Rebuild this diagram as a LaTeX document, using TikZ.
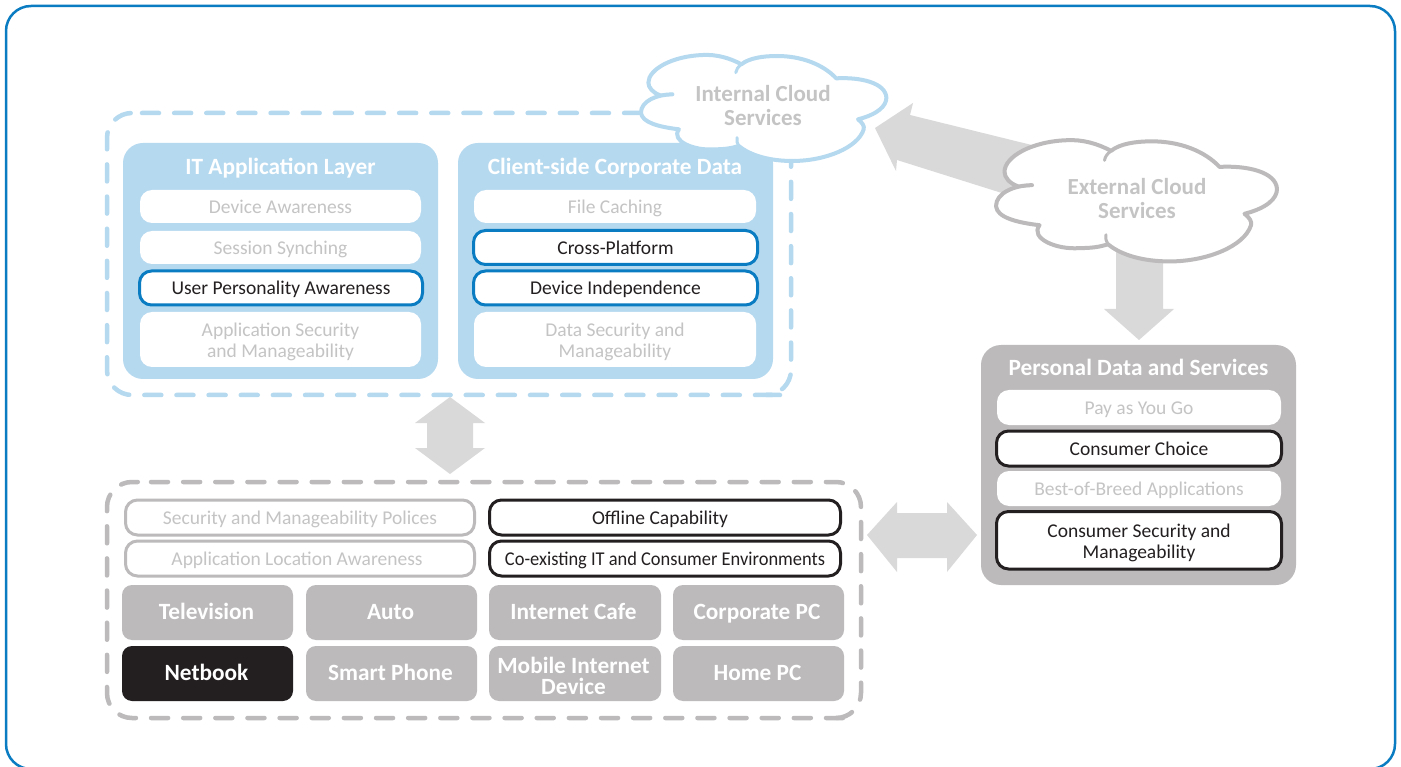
\documentclass[tikz,border=0pt]{standalone}
\usepackage{fontspec}
\setmainfont{Carlito}
\definecolor{outerblue}{HTML}{0A7CC1}
\definecolor{lightblue}{HTML}{B5D9EF}
\definecolor{midgrey}{HTML}{BCBABB}
\definecolor{arrowgrey}{HTML}{D9D9D9}
\definecolor{faint}{HTML}{C4C4C4}
\definecolor{nearblack}{HTML}{231F20}
\tikzset{
  x=1pt,y=-1pt,
  base/.style={rectangle,inner sep=0pt,outer sep=0pt,align=center},
  smalltext/.style={base,font=\fontsize{19.5}{21}\selectfont,
    execute at begin node={\rule{0pt}{19pt}},execute at end node={\rule[-5pt]{0pt}{5pt}}},
  bigtext/.style={base,font=\fontsize{23.3}{21}\selectfont\bfseries,
    execute at begin node={\rule{0pt}{21pt}},execute at end node={\rule[-7pt]{0pt}{7pt}}},
  titletext/.style={base,font=\fontsize{23.3}{21}\selectfont\bfseries,
    execute at begin node={\rule{0pt}{22pt}},execute at end node={\rule[-6pt]{0pt}{6pt}}},
  plainrow/.style={smalltext,fill=white,rounded corners=12pt,text=faint},
  bluerow/.style={smalltext,fill=white,draw=outerblue,line width=3pt,rounded corners=12pt,text=nearblack},
  blackrow/.style={smalltext,fill=white,draw=nearblack,line width=3pt,rounded corners=12pt,text=nearblack},
  greyrow/.style={smalltext,fill=white,draw=midgrey,line width=3pt,rounded corners=12pt,text=faint},
  tile/.style={bigtext,fill=midgrey,rounded corners=10pt,text=white},
  darktile/.style={tile,fill=nearblack},
  panelblue/.style={base,fill=lightblue,rounded corners=20pt},
  panelgrey/.style={base,fill=midgrey,rounded corners=20pt},
  paneltitle/.style={titletext,text=white},
  dashframe/.style={line width=4.5pt,line cap=round,rounded corners=25pt,dash pattern=on 17pt off 15.14pt},
  blockarrow/.style={fill=arrowgrey,draw=none},
  cloudtext/.style={base,text=faint,font=\fontsize{23}{24}\selectfont\bfseries},
}
\newcommand{\boxat}[7]{%
  \pgfmathsetmacro{\bw}{#5-#3}\pgfmathsetmacro{\bh}{#6-#4}%
  \pgfmathsetmacro{\bx}{(#3+#5)/2}\pgfmathsetmacro{\by}{(#4+#6)/2}%
  \node[#2,minimum width=\bw pt,minimum height=\bh pt] (#1) at (\bx,\by) {#7};}
\newcommand{\cloudoutline}{%
  (120,160) .. controls (85,160) and (48,180) .. (48,215)
  .. controls (50,245) and (90,258) .. (135,265)
  .. controls (115,300) and (170,330) .. (215,325)
  .. controls (240,325) and (255,322) .. (272,315)
  .. controls (300,345) and (345,360) .. (395,360)
  .. controls (470,360) and (545,320) .. (558,265)
  .. controls (560,255) and (555,245) .. (545,235)
  .. controls (590,220) and (610,195) .. (610,170)
  .. controls (608,125) and (550,108) .. (495,112)
  .. controls (465,70) and (415,45) .. (360,45)
  .. controls (325,45) and (295,52) .. (278,70)
  .. controls (250,50) and (220,40) .. (190,42)
  .. controls (120,45) and (65,85) .. (65,125)
  .. controls (65,140) and (75,155) .. (92,163)}
\newcommand{\cloudticks}[1]{%
  \draw[#1,line width=3pt,line cap=round] (92,163) -- (120,160);
  \draw[#1,line width=3pt,line cap=round] (272,315) .. controls (268,308) and (267,300) .. (268,290);
  \draw[#1,line width=3pt,line cap=round] (278,70) .. controls (270,78) and (266,86) .. (265,95);}
\begin{document}
\begin{tikzpicture}
\useasboundingbox (0,0) rectangle (1401,767);
\clip (0,0) rectangle (1401,767);
\fill[white] (0,0) rectangle (1401,767);
% outer border, open at the page bottom
\draw[outerblue,line width=2.5pt,rounded corners=25pt] (6,6) rectangle (1395,769);

% block arrows
\fill[blockarrow] (875,128) -- (913,103) -- (910,115) -- (1060,152) -- (1040,205) -- (897,160) -- (896,171) -- cycle;
\fill[blockarrow] (1116,240) -- (1163,240) -- (1163,309) -- (1174,309) -- (1139,340) -- (1104,309) -- (1116,309) -- cycle;
\fill[blockarrow] (450,397) -- (485,423) -- (473,423) -- (473,448) -- (485,448) -- (450,474) -- (415,448) -- (427,448) -- (427,423) -- (415,423) -- cycle;
\fill[blockarrow] (867,535) -- (897,502) -- (897,513) -- (947,513) -- (947,502) -- (977,535) -- (947,572) -- (947,558) -- (897,558) -- (897,572) -- cycle;

% dashed frames: two runs each, so the dashes fall where the reference has them
\draw[lightblue,dashframe] (142,113) -- (791,113) -- (791,395) -- (780,395);
\draw[lightblue,dashframe] (772,395) -- (107,395) -- (107,113) -- (130,113);
\draw[midgrey,dashframe] (151,482) -- (861,482) -- (861,718) -- (850,718);
\draw[midgrey,dashframe] (843,718) -- (107,718) -- (107,482) -- (139,482);

% IT application layer
\boxat{itpanel}{panelblue}{123}{143}{438}{379}{}
\node[paneltitle] (ittitle) at (280.5,167) {IT Application Layer};
\boxat{deviceaw}{plainrow}{140}{190}{421}{223}{Device Awareness}
\boxat{session}{plainrow}{140}{231}{421}{264}{Session Synching}
\boxat{userpers}{bluerow}{139.5}{271}{422.5}{305}{User Personality Awareness}
\boxat{appsec}{plainrow}{140}{312}{421}{367}{\rule{0pt}{21pt}Application Security\\and Manageability}

% Client-side corporate data
\boxat{clientpanel}{panelblue}{458}{143}{773}{379}{}
\node[paneltitle] (clienttitle) at (615,167) {Client-side Corporate Data};
\boxat{filecache}{plainrow}{474}{190}{756}{223}{File Caching}
\boxat{crossplat}{bluerow}{473.5}{230.5}{757.5}{264.5}{Cross-Platform}
\boxat{deviceind}{bluerow}{473.5}{271}{757.5}{305}{Device Independence}
\boxat{datasec}{plainrow}{474}{312}{756}{367}{\rule{0pt}{21pt}Data Security and\\Manageability}

% Personal data and services
\boxat{personal}{panelgrey}{981}{345}{1296}{585}{}
\node[paneltitle] (personaltitle) at (1138.5,368) {Personal Data and Services};
\boxat{payg}{plainrow}{997}{390}{1281}{425}{Pay as You Go}
\boxat{choice}{blackrow}{996.5}{431}{1281.5}{466}{Consumer Choice}
\boxat{bestof}{plainrow}{997}{471}{1281}{506}{Best-of-Breed Applications}
\boxat{consec}{blackrow}{996.5}{511.5}{1281.5}{569}{\rule{0pt}{19.5pt}Consumer Security and\\Manageability}

% Device rows
\boxat{secpol}{greyrow}{125.5}{500}{474.5}{535}{Security and Manageability Polices}
\boxat{apploc}{greyrow}{125.5}{541}{474.5}{576}{\hspace*{-6pt}Application Location Awareness}
\boxat{offline}{blackrow}{489.5}{500}{840.5}{535}{\hspace*{-10pt}Offline Capability}
\boxat{coexist}{blackrow}{489.5}{541}{840.5}{576}{\scalebox{0.945}[1]{Co-existing IT and Consumer Environments}}

% Device tiles
\boxat{tv}{tile}{122}{585}{293}{640}{\hspace*{-2pt}Television}
\boxat{auto}{tile}{306}{585}{477}{640}{\hspace*{-2pt}Auto}
\boxat{cafe}{tile}{489}{585}{661}{640}{\hspace*{-3pt}Internet Cafe}
\boxat{corppc}{tile}{673}{585}{844}{640}{\hspace*{-3pt}Corporate PC}
\boxat{netbook}{darktile}{122}{646}{293}{701}{\hspace*{-2pt}Netbook}
\boxat{phone}{tile}{306}{646}{477}{701}{\hspace*{-2pt}Smart Phone}
\boxat{mid}{tile}{489}{646}{661}{701}{\rule{0pt}{27pt}\hspace*{-3pt}Mobile Internet\\\hspace*{-3pt}Device}
\boxat{homepc}{tile}{673}{646}{844}{701}{\hspace*{-2pt}Home PC}

% clouds
\begin{scope}[shift={(620,41)},xscale=0.4367,yscale=0.3333]
  \filldraw[fill=white,draw=lightblue,line width=4pt,line join=round,line cap=round] \cloudoutline;
  \cloudticks{lightblue}
\end{scope}
\begin{scope}[shift={(972,124.2)},xscale=0.5,yscale=0.3812]
  \filldraw[fill=white,draw=midgrey,line width=4pt,line join=round,line cap=round] \cloudoutline;
  \cloudticks{midgrey}
\end{scope}
\node[cloudtext] (internal) at (763,106) {Internal Cloud\\Services};
\node[cloudtext] (external) at (1137,199) {External Cloud\\Services};
\end{tikzpicture}
\end{document}
